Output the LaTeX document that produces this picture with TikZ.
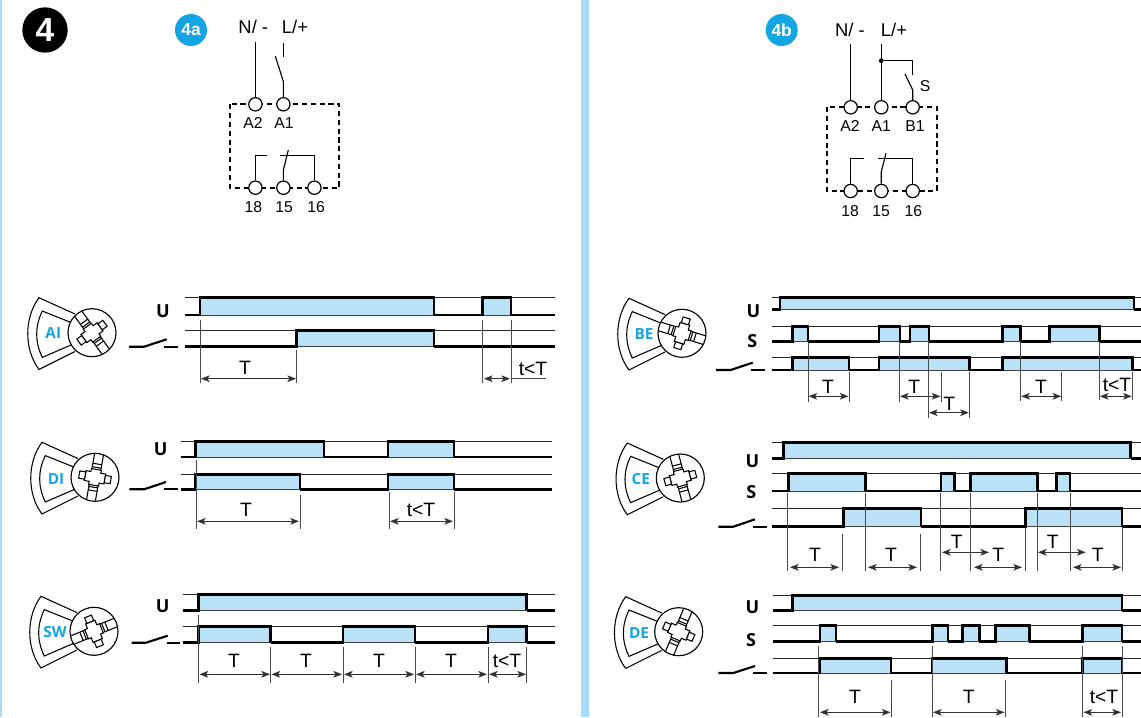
\documentclass[tikz,border=0pt]{standalone}
\usepackage{fontspec}
\setmainfont{Liberation Sans}
\newfontfamily\lblbold{Open Sans}
\usetikzlibrary{arrows.meta}
\definecolor{pulseblue}{HTML}{B9E2F9}
\definecolor{bandblue}{HTML}{A6DBFA}
\definecolor{badgeblue}{HTML}{14A5E5}
\definecolor{tickgray}{HTML}{4A4A4A}
\tikzset{
  pulsefill/.style={fill=pulseblue,draw=none},
  wbase/.style={draw=black!75,line width=0.72pt},
  thinline/.style={draw=black!85,line width=0.72pt},
  thickline/.style={draw=black,line width=2.1pt,line join=miter,line cap=butt},
  ticklin/.style={draw=tickgray,line width=0.72pt},
  dimline/.style={draw=black!80,line width=0.72pt,{Stealth[length=6.5pt,width=5pt,inset=1.6pt]}-{Stealth[length=6.5pt,width=5pt,inset=1.6pt]}},
  dimtext/.style={inner sep=0pt,font=\fontsize{14.5}{15}\selectfont},
  termtext/.style={inner sep=0pt,font=\fontsize{11.8}{12}\selectfont},
  powertext/.style={inner sep=0pt,font=\fontsize{13.8}{14}\selectfont},
  sigtext/.style={inner sep=0pt,font=\lblbold\bfseries\fontsize{13.5}{14}\selectfont},
  dialtext/.style={inner sep=0pt,text=badgeblue,font=\lblbold\bfseries\fontsize{11.5}{12}\selectfont},
  term/.style={circle,draw=black,fill=white,line width=0.9pt,inner sep=0pt,minimum size=10pt},
  wire/.style={draw=black,line width=0.85pt},
  boxdash/.style={draw=black,line width=1.6pt,dash pattern=on 3.8pt off 2.8pt},
  dialline/.style={draw=black,line width=0.8pt,line join=miter},
  badge/.style={circle,fill=badgeblue,text=white,inner sep=0pt,minimum size=24pt,font=\bfseries\fontsize{13}{14}\selectfont},
  switchline/.style={draw=black,line width=1.6pt},
}
\newcount\lblc
\newcommand\lbl[4]{\global\advance\lblc by 1 \node[#1] (lbl\the\lblc) at (#2,#3) {#4};}
\newcommand\wave[5]{%
  \foreach \a/\b in {#5}{\fill[pulsefill] (\a,#3) rectangle (\b,#4); \draw[wbase] (\a,#4)--(\b,#4);}
  \draw[thinline] (#1,#3)--(#2,#3);
  \xdef\prevx{#1}
  \foreach \a/\b in {#5}{\draw[thickline] (\prevx,#4)--(\a,#4)--(\a,#3)--(\b,#3)--(\b,#4); \xdef\prevx{\b}}
  \draw[thickline] (\prevx,#4)--(#2,#4);
}
% tick: x, y from, y to
\newcommand\tick[3]{\draw[ticklin] (#1,#2)--(#1,#3);}
% dimension arrow: x1 x2 y
\newcommand\dimarrow[3]{\coordinate (dA) at (#1,#3); \coordinate (dB) at (#2,#3); \draw[dimline] (dA)--(dB);}
% switch: x0 x1 x2 ytip dash0 dash1 y
\newcommand\relaysw[7]{\draw[switchline] (#1,#7)--(#2,#7)--(#3,#4); \draw[switchline] (#5,#7)--(#6,#7);}
% dial: cx cy rot label lx ly
\newcommand\dial[6]{%
  \begin{scope}[shift={(#1,#2)}]
    \draw[dialline] (-17,-18.7)--(-53,-35) .. controls (-68,-15) and (-68,17) .. (-53,36.7)--(-17,18.7);
    \draw[dialline] (-18,-9)--(-49.7,-21.7) .. controls (-57.2,-6) and (-57.2,9) .. (-49.7,24.7)--(-18,11);
    \node[circle,draw=black,fill=white,line width=0.85pt,inner sep=0pt,minimum size=36pt] (dialc#4) at (0,0) {};
    \begin{scope}[rotate=#3]
      \draw[dialline] (-4.5,-8)--(-4.5,-23.5) (4.5,-8)--(4.5,-23.5) (-4.5,8)--(-4.5,23.5) (4.5,8)--(4.5,23.5);
      \draw[dialline] (-4.5,-10)--(4.5,-10) (-4.5,-13.5)--(4.5,-13.5) (-4.5,10)--(4.5,10) (-4.5,13.5)--(4.5,13.5);
      \draw[dialline,fill=white] (-5,-8)--(5,-8)--(5,-5)--(10,-5)--(10,5)--(5,5)--(5,8)--(-5,8)--(-5,5)--(-10,5)--(-10,-5)--(-5,-5)--cycle;
      \draw[dialline,fill=white] (10,-3.7) rectangle (16,3.7) (-10,-3.7) rectangle (-16,3.7);
    \end{scope}
  \end{scope}
  \lbl{dialtext}{#5}{#6}{#4}
}
\begin{document}
\begin{tikzpicture}[x=0.75pt,y=-0.75pt]
\useasboundingbox (0,0) rectangle (1141,717);
\fill[white] (0,0) rectangle (1141,717);
\fill[bandblue] (0,0) rectangle (1.6,717);
\fill[bandblue] (581,0) rectangle (589,717);
% badges
\node[circle,fill=black,text=white,inner sep=0pt,minimum size=34pt,font=\bfseries\fontsize{25}{26}\selectfont] (b4) at (45,30) {4};
\node[badge] (b4a) at (191,30) {4a};
\node[badge] (b4b) at (781.7,30) {4b};

% ---- circuit 4a
\draw[boxdash] (230.3,104.3) rectangle (339.3,187.7);
\node[term] (a2) at (255.4,104.3) {};
\node[term] (a1) at (283.4,104.3) {};
\node[term] (t18) at (255.4,187.7) {};
\node[term] (t15) at (283.4,187.7) {};
\node[term] (t16) at (314.4,187.7) {};
\lbl{powertext}{253.3}{27}{N/ -}
\lbl{powertext}{295}{27}{L/+}
\coordinate (nTop) at (255.4,41.7);
\coordinate (lTop) at (283.4,42.7);
\coordinate (lEnd) at (283.4,57.3);
\coordinate (swK) at (283.4,81.7);
\coordinate (swT) at (275.3,56);
\draw[wire] (nTop)--(a2);
\draw[wire] (lTop)--(lEnd);
\draw[wire] (a1)--(swK)--(swT);
\coordinate (c18a) at (255.4,155.4); \coordinate (c18b) at (266.7,155.4);
\draw[wire] (t18)--(c18a)--(c18b);
\coordinate (c15a) at (283.4,170); \coordinate (c15b) at (288.3,150);
\draw[wire] (t15)--(c15a)--(c15b);
\coordinate (c16a) at (280,155.4); \coordinate (c16b) at (314.4,155.4);
\draw[wire] (c16a)--(c16b)--(t16);
\lbl{termtext}{253}{122.7}{A2}
\lbl{termtext}{284}{122.7}{A1}
\lbl{termtext}{253.3}{207.3}{18}
\lbl{termtext}{284}{207.3}{15}
\lbl{termtext}{316}{207.3}{16}

% ---- circuit 4b
\draw[boxdash] (827.3,107.3) rectangle (936.7,191);
\node[term] (ba2) at (850.7,107.3) {};
\node[term] (ba1) at (881.3,107.3) {};
\node[term] (bb1) at (912.7,107.3) {};
\node[term] (bt18) at (850.7,191) {};
\node[term] (bt15) at (881.3,191) {};
\node[term] (bt16) at (912.7,191) {};
\lbl{powertext}{850}{30}{N/ -}
\lbl{powertext}{894}{30}{L/+}
\lbl{termtext}{925}{85.7}{S}
\coordinate (bnTop) at (850.7,44.3);
\coordinate (blTop) at (881.3,44.3);
\draw[wire] (bnTop)--(ba2);
\draw[wire] (blTop)--(ba1);
\node[circle,fill=black,inner sep=0pt,minimum size=3.6pt] (bdot) at (881.3,60.7) {};
\coordinate (bs1) at (912.7,60.7); \coordinate (bs2) at (912.7,75);
\draw[wire] (bdot)--(bs1)--(bs2);
\coordinate (bk) at (912.7,90); \coordinate (bt) at (905,74);
\draw[wire] (bb1)--(bk)--(bt);
\coordinate (bc18a) at (850.7,158.3); \coordinate (bc18b) at (864,158.3);
\draw[wire] (bt18)--(bc18a)--(bc18b);
\coordinate (bc15a) at (881.3,171.7); \coordinate (bc15b) at (886,153.3);
\draw[wire] (bt15)--(bc15a)--(bc15b);
\coordinate (bc16a) at (878.3,158.3); \coordinate (bc16b) at (912.7,158.3);
\draw[wire] (bc16a)--(bc16b)--(bt16);
\lbl{termtext}{850}{125.7}{A2}
\lbl{termtext}{881.3}{125.7}{A1}
\lbl{termtext}{915}{125.7}{B1}
\lbl{termtext}{850}{211}{18}
\lbl{termtext}{881}{211}{15}
\lbl{termtext}{913.3}{211}{16}

% ---- AI
\dial{92}{332.7}{36}{AI}{53.3}{333.3}
\lbl{sigtext}{163}{310.7}{U}
\relaysw{129}{144}{166.7}{339.3}{164}{178}{346.7}
\wave{185}{555}{297.7}{315}{200/434,482.7/511}
\wave{185}{555}{330.7}{346.7}{296.7/434}
\tick{200}{320}{383}\tick{296.7}{350}{383}\tick{482.7}{320}{383}\tick{511}{320}{383}
\dimarrow{201}{296}{378.7}
\lbl{dimtext}{245}{368}{T}
\dimarrow{484}{510}{378.7}
\coordinate (aiA) at (511,378.7); \coordinate (aiB) at (546,378.7);
\draw[ticklin] (aiA)--(aiB);
\lbl{dimtext}{533}{368.5}{t<T}

% ---- DI
\dial{95}{477.3}{-10}{DI}{56}{478.7}
\lbl{sigtext}{160.7}{449.3}{U}
\relaysw{129.3}{144}{166}{482}{164}{178}{489.3}
\wave{181}{552}{441.7}{457}{195.7/324,388/454}
\wave{181}{552}{474.3}{489.3}{195.7/300,388/454}
\tick{196}{460}{529}\tick{300}{495}{529}\tick{389}{492}{529}\tick{454}{492}{529}
\dimarrow{197}{299}{521.3}
\lbl{dimtext}{246}{510}{T}
\dimarrow{390}{453}{521.3}
\lbl{dimtext}{421}{510}{t<T}

% ---- SW
\dial{94}{631.3}{-68}{SW}{55}{632.3}
\lbl{sigtext}{162.7}{606}{U}
\relaysw{131.7}{146}{167.7}{635.7}{166.7}{180}{642.7}
\wave{182.7}{555}{594.3}{610.3}{198.3/526.5}
\wave{182.7}{555}{626.3}{642.7}{198.3/270.7,343/415,488/526.5}
\tick{198.3}{615}{682.7}\tick{270.7}{647}{682.7}\tick{343}{647}{682.7}\tick{415}{647}{682.7}\tick{488}{647}{682.7}\tick{526.5}{647}{682.7}
\dimarrow{199.5}{270}{674.3}\dimarrow{271.5}{342}{674.3}\dimarrow{344}{414}{674.3}\dimarrow{416}{487}{674.3}\dimarrow{489}{526}{674.3}
\lbl{dimtext}{234}{661}{T}\lbl{dimtext}{306}{661}{T}\lbl{dimtext}{379}{661}{T}\lbl{dimtext}{451}{661}{T}\lbl{dimtext}{507}{661}{t<T}

% ---- BE
\dial{682}{333.3}{73}{BE}{644}{334.3}
\lbl{sigtext}{753.3}{310.7}{U}
\lbl{sigtext}{752.3}{341}{S}
\relaysw{716}{730.7}{752.7}{362.7}{751}{765}{370}
\wave{772.3}{1141}{297.7}{309.3}{780/1134}
\wave{772.3}{1141}{326.3}{341.3}{792.3/808,879/900,910/929,1002.3/1020.7,1049.3/1099.3}
\wave{772.3}{1141}{357.3}{370}{792.3/849,879/969.3,1002.7/1132.3}
\tick{808.3}{342}{402}\tick{849.3}{372}{402}
\dimarrow{808.5}{848.5}{396.3}\lbl{dimtext}{828}{387}{T}
\tick{899.5}{342}{402}\tick{941.3}{372}{402}
\dimarrow{900}{940.5}{396.3}\lbl{dimtext}{914.3}{387}{T}
\tick{928.3}{342}{418.3}\tick{969.3}{372}{418.3}
\dimarrow{929}{968.8}{412.7}\lbl{dimtext}{949.3}{404}{T}
\tick{1020.7}{342}{401}\tick{1061.7}{372}{401}
\dimarrow{1021.2}{1061.2}{396.3}\lbl{dimtext}{1041}{387}{T}
\tick{1099.3}{342}{400}\tick{1132.3}{372}{400}
\dimarrow{1099.8}{1131.8}{396.3}\lbl{dimtext}{1117}{385}{t<T}

% ---- CE
\dial{680.3}{478}{15}{CE}{640.7}{479.3}
\lbl{sigtext}{752.3}{460.7}{U}
\lbl{sigtext}{751.3}{491.7}{S}
\relaysw{718.3}{733.3}{755}{519.3}{753.3}{767}{526.7}
\wave{772}{1141}{442.3}{458.3}{783.3/1130.7}
\wave{772}{1141}{473.3}{491}{788.3/865.3,941/954.7,970.7/1037.3,1056.7/1070}
\wave{772}{1141}{508.3}{526.7}{843.3/921,1025.3/1122}
\tick{787.3}{493}{571}\tick{842.3}{534}{571}
\dimarrow{790}{839}{567.3}\lbl{dimtext}{815}{555}{T}
\tick{865.3}{493}{571}\tick{920.3}{534}{571}
\dimarrow{868}{917}{567.3}\lbl{dimtext}{891}{555}{T}
\tick{940.3}{493}{571}
\dimarrow{942}{989}{552.3}\lbl{dimtext}{956.7}{541.7}{T}
\tick{970.3}{493}{571}\tick{1025.7}{528}{571}
\dimarrow{974}{1022}{567.3}\lbl{dimtext}{998.3}{555}{T}
\tick{1037.3}{493}{571}
\dimarrow{1038}{1085.7}{552.3}\lbl{dimtext}{1052.7}{541.7}{T}
\tick{1070.3}{493}{571}\tick{1122.3}{528}{571}
\dimarrow{1073}{1121}{567.3}\lbl{dimtext}{1097.7}{555}{T}

% ---- DE
\dial{678.7}{631.7}{-23}{DE}{639}{632.7}
\lbl{sigtext}{752.3}{607.3}{U}
\lbl{sigtext}{751}{640}{S}
\relaysw{718.3}{733.3}{755}{666}{753}{767}{673}
\wave{773}{1141}{595.3}{610.7}{792.7/1122}
\wave{773}{1141}{625.3}{641.3}{820/836,932.3/948,962.3/979.3,995.7/1029.3,1082.7/1122}
\wave{773}{1141}{658.3}{673}{819.7/891,932/1006.3,1082.7/1122}
\tick{818.7}{646}{717}\tick{891.5}{680}{717}
\dimarrow{820}{890.5}{712.3}\lbl{dimtext}{855}{696.7}{T}
\tick{932.3}{646}{717}\tick{1005.3}{680}{717}
\dimarrow{933}{1004.5}{712.3}\lbl{dimtext}{968.7}{696.7}{T}
\tick{1082.7}{646}{717}\tick{1122.3}{646}{717}
\dimarrow{1083.5}{1121}{712.3}\lbl{dimtext}{1104}{697}{t<T}
\end{tikzpicture}
\end{document}
